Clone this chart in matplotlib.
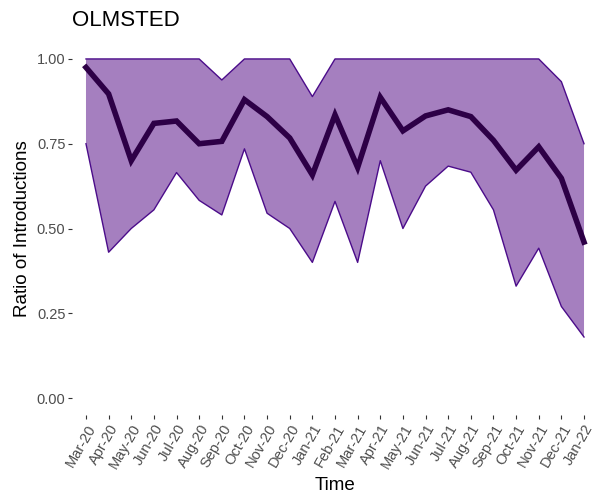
import numpy as np
import matplotlib
matplotlib.use("Agg")
import matplotlib.pyplot as plt

months = ["Mar-20", "Apr-20", "May-20", "Jun-20", "Jul-20", "Aug-20", "Sep-20",
          "Oct-20", "Nov-20", "Dec-20", "Jan-21", "Feb-21", "Mar-21", "Apr-21",
          "May-21", "Jun-21", "Jul-21", "Aug-21", "Sep-21", "Oct-21", "Nov-21",
          "Dec-21", "Jan-22"]
ratio = [0.975, 0.897, 0.70, 0.81, 0.817, 0.75, 0.757, 0.88, 0.83, 0.767,
         0.658, 0.835, 0.68, 0.887, 0.788, 0.832, 0.85, 0.83, 0.76, 0.672,
         0.741, 0.648, 0.46]
upper = [1.0, 1.0, 1.0, 1.0, 1.0, 1.0, 0.938, 1.0, 1.0, 1.0,
         0.889, 1.0, 1.0, 1.0, 1.0, 1.0, 1.0, 1.0, 1.0, 1.0,
         1.0, 0.933, 0.75]
lower = [0.75, 0.43, 0.50, 0.555, 0.665, 0.583, 0.54, 0.735, 0.545, 0.50,
         0.40, 0.58, 0.40, 0.70, 0.50, 0.625, 0.684, 0.666, 0.555, 0.33,
         0.442, 0.27, 0.18]

plt.rcParams['font.family'] = ['Liberation Sans', 'DejaVu Sans']

fig = plt.figure(figsize=(6.05, 4.97), dpi=100)
ax = fig.add_axes([72.4 / 605, 1 - 415 / 497, (597.6 - 72.4) / 605, (415 - 42) / 497])

x = np.arange(len(months))
# ribbon: fill without edges, then only the upper and lower outlines
ax.fill_between(x, lower, upper, facecolor="#a57fbf", edgecolor="none", linewidth=0)
ax.plot(x, upper, color="#4b0c8a", linewidth=1.0)
ax.plot(x, lower, color="#4b0c8a", linewidth=1.0)
ax.plot(x, ratio, color="#2d0046", linewidth=4, solid_joinstyle="miter")

ax.set_xlim(-0.6, len(months) - 1 + 0.6)
ax.set_ylim(-0.05, 1.05)
ax.set_yticks([0, 0.25, 0.5, 0.75, 1.0])
ax.set_yticklabels(["0.00", "0.25", "0.50", "0.75", "1.00"])
ax.set_xticks(x)
ax.set_xticklabels(months, rotation=60, ha="right", rotation_mode="anchor")

for s in ax.spines.values():
    s.set_visible(False)
ax.tick_params(axis="both", colors="#333333", labelcolor="#4d4d4d", labelsize=10.5,
               length=3, width=0.8, pad=2)

ax.set_xlabel("Time", fontsize=13.5, labelpad=4)
ax.set_ylabel("Ratio of Introductions", fontsize=13.5, labelpad=4)
fig.text(72.4 / 605, 1 - 20 / 497, "OLMSTED", fontsize=16, va="center", ha="left")

fig.savefig("out.png", dpi=100)
